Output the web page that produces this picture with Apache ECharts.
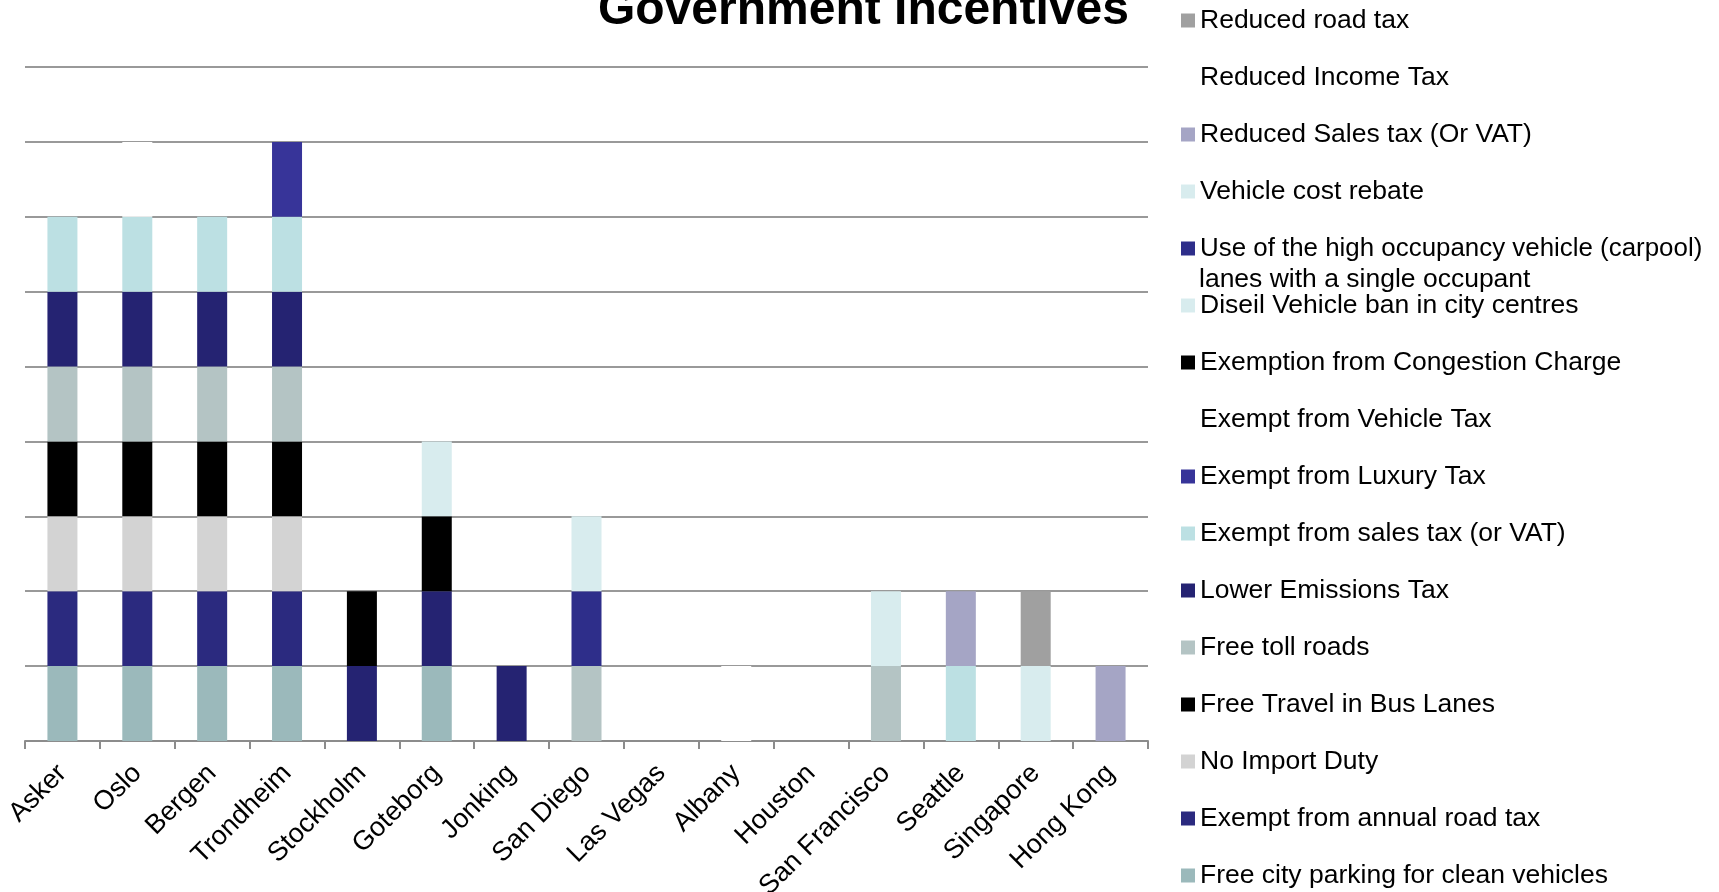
<!DOCTYPE html>
<html>
<head>
<meta charset="utf-8">
<script src="https://cdn.jsdelivr.net/npm/echarts@6/dist/echarts.min.js"></script>
<style>
  html, body { margin: 0; padding: 0; background: #fff; }
  #chart { width: 1719px; height: 892px; }
</style>
</head>
<body>
<div id="chart"></div>
<script>
const categories = ['Asker','Oslo','Bergen','Trondheim','Stockholm','Goteborg','Jonking','San Diego','Las Vegas','Albany','Houston','San Francisco','Seattle','Singapore','Hong Kong'];

// Series in stacking order (bottom to top)
const freeCityParking     = [1,1,1,1,0,1,0,0,0,0,0,0,0,0,0];
const exemptAnnualRoadTax = [1,1,1,1,0,0,0,0,0,0,0,0,0,0,0];
const noImportDuty        = [1,1,1,1,0,0,0,0,0,0,0,0,0,0,0];
const freeBusLanes        = [1,1,1,1,0,0,0,0,0,0,0,0,0,0,0];
const freeTollRoads       = [1,1,1,1,0,0,0,1,0,0,0,1,0,0,0];
const lowerEmissionsTax   = [1,1,1,1,1,1,1,0,0,0,0,0,0,0,0];
const exemptSalesTax      = [1,1,1,1,0,0,0,0,0,0,0,0,1,0,0];
const exemptLuxuryTax     = [0,0,0,1,0,0,0,0,0,0,0,0,0,0,0];
const exemptVehicleTax    = [0,1,0,0,0,0,0,0,0,1,0,0,0,0,0];
const congestionCharge    = [0,0,0,0,1,1,0,0,0,0,0,0,0,0,0];
const dieselBan           = [0,0,0,0,0,1,0,0,0,0,0,0,0,0,0];
const hovLanes            = [0,0,0,0,0,0,0,1,0,0,0,0,0,0,0];
const vehicleCostRebate   = [0,0,0,0,0,0,0,1,0,0,0,1,0,1,0];
const reducedSalesTax     = [0,0,0,0,0,0,0,0,0,0,0,0,1,0,1];
const reducedIncomeTax    = [0,0,0,0,0,0,0,0,0,0,0,0,0,0,0];
const reducedRoadTax      = [0,0,0,0,0,0,0,0,0,0,0,0,0,1,0];

const HOV_NAME = 'Use of the high occupancy vehicle (carpool) lanes with a single occupant';

const seriesDefs = [
  ['Free city parking for clean vehicles', freeCityParking, '#9bb9bb'],
  ['Exempt from annual road tax', exemptAnnualRoadTax, '#2b2a7f'],
  ['No Import Duty', noImportDuty, '#d3d3d3'],
  ['Free Travel in Bus Lanes', freeBusLanes, '#000000'],
  ['Free toll roads', freeTollRoads, '#b4c4c4'],
  ['Lower Emissions Tax', lowerEmissionsTax, '#252372'],
  ['Exempt from sales tax (or VAT)', exemptSalesTax, '#bce0e3'],
  ['Exempt from Luxury Tax', exemptLuxuryTax, '#373499'],
  ['Exempt from Vehicle Tax', exemptVehicleTax, '#ffffff'],
  ['Exemption from Congestion Charge', congestionCharge, '#000000'],
  ['Diseil Vehicle ban in city centres', dieselBan, '#d8ecee'],
  [HOV_NAME, hovLanes, '#2e2e8a'],
  ['Vehicle cost rebate', vehicleCostRebate, '#d8ecee'],
  ['Reduced Sales tax (Or VAT)', reducedSalesTax, '#a5a5c5'],
  ['Reduced Income Tax', reducedIncomeTax, '#ffffff'],
  ['Reduced road tax', reducedRoadTax, '#a0a0a0']
];

const FONT = '"Liberation Sans", Arial, sans-serif';

const series = seriesDefs.map(function (d) {
  const white = d[2] === '#ffffff';
  return {
    name: d[0],
    type: 'bar',
    stack: 'total',
    barWidth: 30,
    data: d[1].map(function (v) { return v === 0 ? null : v; }),
    itemStyle: white ? { color: d[2], borderColor: '#ffffff', borderWidth: 2 } : { color: d[2] },
    emphasis: { disabled: true }
  };
});

const legendOrder = seriesDefs.map(function (d) { return d[0]; }).reverse().map(function (n) {
  return n === HOV_NAME ? { name: n, textStyle: { fontSize: 25.9 } } : { name: n };
});

const chart = echarts.init(document.getElementById('chart'), null, { renderer: 'canvas' });
chart.setOption({
  animation: false,
  backgroundColor: '#ffffff',
  title: {
    text: 'Government Incentives',
    left: 598,
    top: -13,
    padding: 0,
    textStyle: { fontFamily: FONT, fontWeight: 'bold', fontSize: 48, color: '#000' }
  },
  legend: {
    orient: 'vertical',
    left: 1180,
    top: 5,
    padding: 0,
    itemWidth: 14,
    itemHeight: 14,
    itemGap: 26,
    icon: 'rect',
    selectedMode: false,
    data: legendOrder,
    formatter: function (name) {
      return name === HOV_NAME ? 'Use of the high occupancy vehicle (carpool)' : name;
    },
    textStyle: { fontFamily: FONT, fontSize: 26.5, color: '#000', lineHeight: 31 }
  },
  graphic: [{
    type: 'text',
    x: 1199,
    y: 280,
    silent: true,
    style: {
      text: 'lanes with a single occupant',
      font: '26.5px "Liberation Sans", Arial, sans-serif',
      fill: '#000',
      verticalAlign: 'middle'
    }
  }],
  grid: { left: 25, right: 571, top: 67, bottom: 151, containLabel: false, outerBoundsMode: 'none' },
  xAxis: {
    type: 'category',
    data: categories,
    axisLine: { lineStyle: { color: '#8c8c8c', width: 2 } },
    axisTick: { show: true, length: 8, lineStyle: { color: '#8c8c8c', width: 2 } },
    axisLabel: { rotate: 45, margin: 28, fontFamily: FONT, fontSize: 27, color: '#000', interval: 0 }
  },
  yAxis: {
    type: 'value',
    min: 0,
    max: 9,
    interval: 1,
    axisLine: { show: false },
    axisTick: { show: false },
    axisLabel: { show: false },
    splitLine: { lineStyle: { color: '#999999', width: 2 } }
  },
  series: series
});
</script>
</body>
</html>
